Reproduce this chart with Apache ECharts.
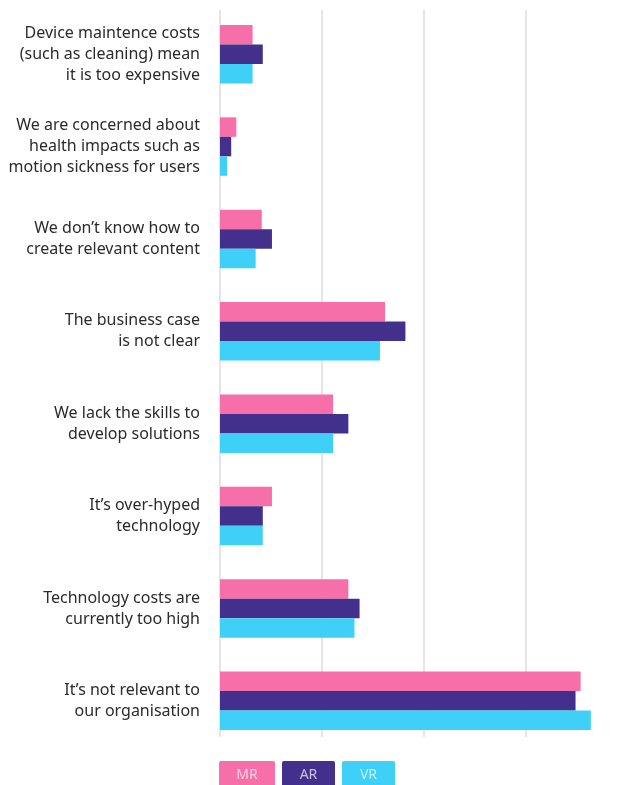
<!DOCTYPE html>
<html>
<head>
<meta charset="utf-8">
<script src="https://cdn.jsdelivr.net/npm/echarts@6/dist/echarts.min.js"></script>
<style>
  html, body { margin: 0; padding: 0; background: #fff; }
  #chart { width: 625px; height: 785px; }
</style>
</head>
<body>
<div id="chart"></div>
<script>
// barriers to adoption, share of respondents (%)
var categories = [
    "Device maintence costs\n(such as cleaning) mean\nit is too expensive",
    "We are concerned about\nhealth impacts such as\nmotion sickness for users",
    "We don\u2019t know how to\ncreate relevant content",
    "The business case\nis not clear",
    "We lack the skills to\ndevelop solutions",
    "It\u2019s over-hyped\ntechnology",
    "Technology costs are\ncurrently too high",
    "It\u2019s not relevant to\nour organisation"
]
var mrValues = [3.2, 1.6, 4.1, 16.2, 11.1, 5.1, 12.6, 35.4]
var arValues = [4.2, 1.1, 5.1, 18.2, 12.6, 4.2, 13.7, 34.9]
var vrValues = [3.2, 0.7, 3.5, 15.7, 11.1, 4.2, 13.2, 36.4]
var seriesNames = ["MR", "AR", "VR"]
var colors = ["#f76fa8", "#42308c", "#3fd0f7"]

var chart = echarts.init(document.getElementById("chart"))

var rich = {}
seriesNames.forEach(function (name, i) {
    rich[name] = {
        backgroundColor: colors[i],
        width: i === 0 ? 56 : 53,
        height: 28,
        lineHeight: 28,
        align: "center",
        borderRadius: 2,
        color: "rgba(255,255,255,0.7)",
        fontSize: 14,
        fontFamily: "Noto Sans"
    }
})

function barSeries(name, data, i) {
    return {
        name: name,
        type: "bar",
        xAxisIndex: 0,
        yAxisIndex: 0,
        data: data,
        barGap: 0,
        barCategoryGap: "36.7%",
        itemStyle: { color: colors[i] },
        emphasis: { disabled: true }
    }
}

var option = {
    animation: false,
    legend: {
        left: 209,
        top: 756,
        itemWidth: 0,
        itemHeight: 0,
        itemGap: 2,
        selectedMode: false,
        data: seriesNames,
        formatter: function (name) { return "{" + name + "|" + name + "}" },
        textStyle: { rich: rich }
    },
    grid: [
        // bars
        { left: 220, width: 407.5, top: 8, height: 739, outerBoundsMode: "none" },
        // gridlines only
        { left: 220, width: 407.5, top: 10, height: 727, outerBoundsMode: "none" }
    ],
    xAxis: [
        {
            gridIndex: 0, type: "value", min: 0, max: 40, interval: 10,
            axisLine: { show: false }, axisTick: { show: false },
            axisLabel: { show: false }, splitLine: { show: false }
        },
        {
            gridIndex: 1, type: "value", min: 0, max: 40, interval: 10,
            axisLine: { show: false }, axisTick: { show: false },
            axisLabel: { show: false },
            splitLine: { show: true, showMinLine: true, lineStyle: { color: "#dcdcdc", width: 1.5 } }
        }
    ],
    yAxis: [
        {
            gridIndex: 0, type: "category", data: categories, inverse: true,
            axisLine: { show: false }, axisTick: { show: false },
            axisLabel: {
                margin: 20,
                align: "right",
                fontSize: 16,
                lineHeight: 21,
                color: "#2b2b2b",
                fontFamily: "Noto Sans"
            }
        },
        {
            gridIndex: 1, type: "category", data: categories, inverse: true,
            axisLine: { show: false }, axisTick: { show: false },
            axisLabel: { show: false }
        }
    ],
    series: [
        barSeries("MR", mrValues, 0),
        barSeries("AR", arValues, 1),
        barSeries("VR", vrValues, 2)
    ]
}

chart.setOption(option)
</script>
</body>
</html>
